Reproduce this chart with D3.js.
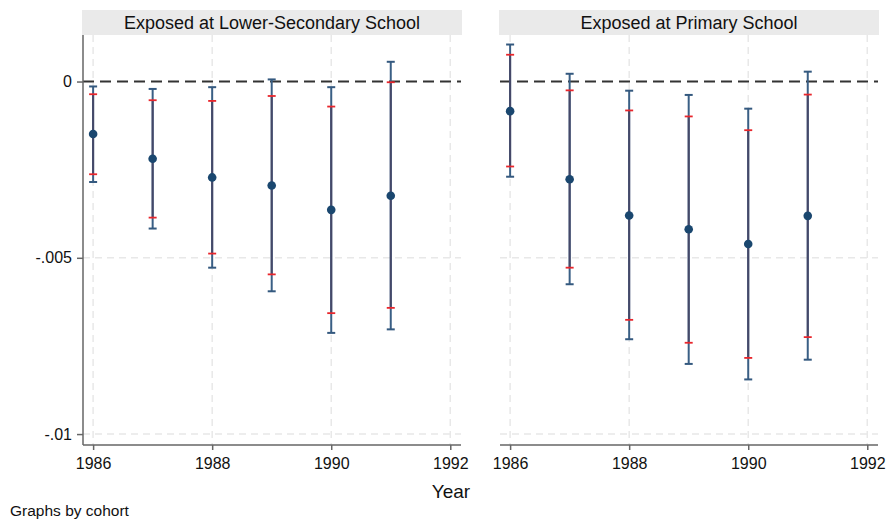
<!DOCTYPE html>
<html><head><meta charset="utf-8">
<script src="https://cdn.jsdelivr.net/npm/d3@7"></script>
<style>
body{margin:0;background:#fff;}
svg{display:block;font-family:"Liberation Sans",Arial,sans-serif;}
</style></head>
<body>
<svg id="chart" width="887" height="522"></svg>
<script>
const panels = ["Exposed at Lower-Secondary School", "Exposed at Primary School"];
const years = [1986, 1987, 1988, 1989, 1990, 1991];
const xTicks = [1986, 1988, 1990, 1992];
const yTicks = [0, -0.005, -0.01];
const yTickLabels = ["0", "-.005", "-.01"];

// Lower-secondary panel
const estLower  = [-0.00149, -0.00219, -0.00272, -0.00295, -0.00364, -0.00324];
const hi95Lower = [-0.00014, -0.00021, -0.00016, 0.00006, -0.00016, 0.00056];
const lo95Lower = [-0.00285, -0.00417, -0.00528, -0.00595, -0.00713, -0.00703];
const hi90Lower = [-0.00036, -0.00053, -0.00055, -0.00041, -0.00071, -0.00002];
const lo90Lower = [-0.00263, -0.00386, -0.00488, -0.00547, -0.00657, -0.00642];

// Primary panel
const estPrimary  = [-0.00084, -0.00277, -0.00380, -0.00419, -0.00461, -0.00381];
const hi95Primary = [0.00105, 0.00022, -0.00026, -0.00038, -0.00077, 0.00028];
const lo95Primary = [-0.00270, -0.00575, -0.00731, -0.00801, -0.00845, -0.00789];
const hi90Primary = [0.00076, -0.00025, -0.00082, -0.00099, -0.00138, -0.00037];
const lo90Primary = [-0.00241, -0.00528, -0.00676, -0.00741, -0.00784, -0.00725];

const series = [
  {title: panels[0], est: estLower, hi95: hi95Lower, lo95: lo95Lower, hi90: hi90Lower, lo90: lo90Lower},
  {title: panels[1], est: estPrimary, hi95: hi95Primary, lo95: lo95Primary, hi90: hi90Primary, lo90: lo90Primary}
];

const svg = d3.select("#chart");
const plotTop = 35, plotBottom = 445;
const panelX = [[83, 461], [500, 878]];
const y = d3.scaleLinear().domain([-0.01031, 0.00132]).range([plotBottom, plotTop]);

const navy = "#1a476f";
const fontFam = "Liberation Sans, Arial, sans-serif";

series.forEach((s, pi) => {
  const [x0, x1] = panelX[pi];
  const x = d3.scaleLinear().domain([1985.83, 1992.18]).range([x0, x1]);
  const g = svg.append("g");

  // title strip
  g.append("rect").attr("x", x0 - 1).attr("y", 10).attr("width", x1 - x0 + 2).attr("height", 25).attr("fill", "#eaeaea");
  g.append("text").attr("x", (x0 + x1) / 2).attr("y", 29).attr("text-anchor", "middle")
    .attr("font-size", 18).attr("fill", "#111").text(s.title);

  // grid
  g.selectAll(".vg").data(xTicks).join("line")
    .attr("x1", d => x(d)).attr("x2", d => x(d)).attr("y1", plotTop).attr("y2", plotBottom)
    .attr("stroke", "#e8e8e8").attr("stroke-width", 1.5).attr("stroke-dasharray", "7,5");
  g.selectAll(".hg").data(yTicks.filter(d => d !== 0)).join("line")
    .attr("x1", x0).attr("x2", x1).attr("y1", d => y(d)).attr("y2", d => y(d))
    .attr("stroke", "#e8e8e8").attr("stroke-width", 1.5).attr("stroke-dasharray", "7,5");

  // zero line
  g.append("line").attr("x1", x0).attr("x2", x1).attr("y1", y(0)).attr("y2", y(0))
    .attr("stroke", "#333").attr("stroke-width", 2).attr("stroke-dasharray", "11,6");

  // x axis
  const xAxis = d3.axisBottom(x).tickValues(xTicks).tickFormat(d3.format("d")).tickSize(5).tickPadding(8);
  const xa = g.append("g").attr("transform", `translate(0,${plotBottom})`).call(xAxis);
  xa.select(".domain").attr("stroke", "#666").attr("stroke-width", 1.5).attr("d", `M${x0},0H${x1}`);
  xa.selectAll(".tick line").attr("stroke", "#666").attr("stroke-width", 1.5);
  xa.selectAll(".tick text").attr("font-size", 16).attr("fill", "#111").attr("font-family", fontFam);

  if (pi === 0) {
    const yAxis = d3.axisLeft(y).tickValues(yTicks).tickFormat((d, i) => yTickLabels[i]).tickSize(6).tickPadding(5);
    const ya = g.append("g").attr("transform", `translate(${x0},0)`).call(yAxis);
    ya.select(".domain").attr("stroke", "#666").attr("stroke-width", 1.5).attr("d", `M0,${plotTop}V${plotBottom}`);
    ya.selectAll(".tick line").attr("stroke", "#666").attr("stroke-width", 1.5);
    ya.selectAll(".tick text").attr("font-size", 16).attr("fill", "#111").attr("font-family", fontFam);
  }

  const idx = years.map((d, i) => i);
  // 95% CI
  g.selectAll(".ci95").data(idx).join("line")
    .attr("x1", i => x(years[i])).attr("x2", i => x(years[i]))
    .attr("y1", i => y(s.hi95[i])).attr("y2", i => y(s.lo95[i]))
    .attr("stroke", "#3a5f85").attr("stroke-width", 2);
  // 90% CI (overlay)
  g.selectAll(".ci90").data(idx).join("line")
    .attr("x1", i => x(years[i])).attr("x2", i => x(years[i]))
    .attr("y1", i => y(s.hi90[i])).attr("y2", i => y(s.lo90[i]))
    .attr("stroke", "#454868").attr("stroke-width", 2);
  // caps 95
  ["hi95", "lo95"].forEach(k => {
    g.selectAll(".c" + k).data(idx).join("line")
      .attr("x1", i => x(years[i]) - 4).attr("x2", i => x(years[i]) + 4)
      .attr("y1", i => y(s[k][i])).attr("y2", i => y(s[k][i]))
      .attr("stroke", "#34597f").attr("stroke-width", 2);
  });
  ["hi90", "lo90"].forEach(k => {
    g.selectAll(".c" + k).data(idx).join("line")
      .attr("x1", i => x(years[i]) - 4).attr("x2", i => x(years[i]) + 4)
      .attr("y1", i => y(s[k][i])).attr("y2", i => y(s[k][i]))
      .attr("stroke", "#e8262c").attr("stroke-width", 1.8);
  });
  // points
  g.selectAll(".pt").data(idx).join("circle")
    .attr("cx", i => x(years[i])).attr("cy", i => y(s.est[i])).attr("r", 4.3)
    .attr("fill", navy);
});

svg.append("text").attr("x", 451).attr("y", 498).attr("text-anchor", "middle")
  .attr("font-size", 19).attr("fill", "#111").text("Year");
svg.append("text").attr("x", 10).attr("y", 516)
  .attr("font-size", 15.5).attr("fill", "#111").text("Graphs by cohort");
</script>
</body></html>
